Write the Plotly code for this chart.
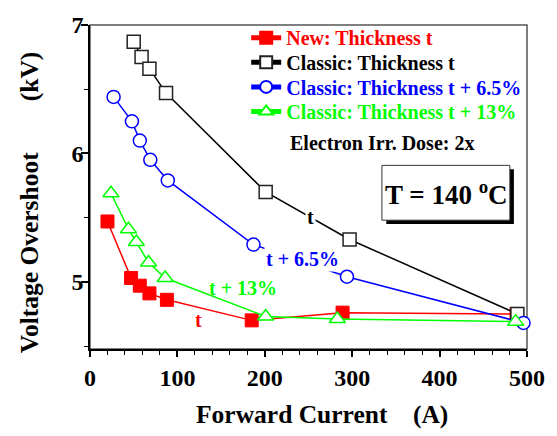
import plotly.graph_objects as go

# ---- data ----
new_x = [20, 47, 57, 68, 88, 185, 289, 488]
new_y = [5.47, 5.03, 4.97, 4.91, 4.86, 4.70, 4.76, 4.75]

cls_x = [50, 59, 68, 87, 201, 297, 489]
cls_y = [6.87, 6.75, 6.66, 6.47, 5.70, 5.33, 4.75]

c65_x = [27, 48, 57, 69, 89, 187, 294, 496]
c65_y = [6.44, 6.25, 6.10, 5.95, 5.79, 5.29, 5.04, 4.68]

c13_x = [24, 44, 53, 67, 86, 201, 283, 487]
c13_y = [5.69, 5.41, 5.31, 5.15, 5.03, 4.73, 4.71, 4.69]

x_ticks = [0, 100, 200, 300, 400, 500]
y_ticks = [5, 6, 7]

RED = "#FF0000"
BLUE = "#0000FF"
GREEN = "#00FF00"
FONT = "Liberation Serif"
NB = "\u00a0"

fig = go.Figure()

fig.add_trace(go.Scatter(
    x=new_x, y=new_y, mode="lines+markers", legend="legend",
    name=f'<span style="color:{RED}">New: Thickness t</span>',
    line=dict(color=RED, width=1.5),
    marker=dict(symbol="square", size=13, color=RED, line=dict(color=RED, width=1)),
    cliponaxis=False,
))
fig.add_trace(go.Scatter(
    x=cls_x, y=cls_y, mode="lines+markers", legend="legend2",
    name='<span style="color:black">Classic: Thickness t</span>',
    line=dict(color="black", width=1.5),
    marker=dict(symbol="square", size=13, color="white", line=dict(color="#222", width=1.5)),
    cliponaxis=False,
))
fig.add_trace(go.Scatter(
    x=c65_x, y=c65_y, mode="lines+markers", legend="legend3",
    name=f'<span style="color:{BLUE}">Classic: Thickness t + 6.5%</span>',
    line=dict(color=BLUE, width=1.5),
    marker=dict(symbol="circle", size=13, color="white", line=dict(color=BLUE, width=1.5)),
    cliponaxis=False,
))
fig.add_trace(go.Scatter(
    x=c13_x, y=c13_y, mode="lines+markers", legend="legend4",
    name=f'<span style="color:{GREEN}">Classic: Thickness t + 13%</span>',
    line=dict(color=GREEN, width=1.5),
    marker=dict(symbol="triangle-up", size=14, color="white", line=dict(color=GREEN, width=1.5)),
    cliponaxis=False,
))

annotations = [
    # axis titles
    dict(x=0.2373, y=-0.2009, xref="paper", yref="paper", xanchor="left", yanchor="middle",
         text="Forward Current" + NB * 4 + "(A)", showarrow=False,
         font=dict(family=FONT, size=25.5, color="black", weight="bold")),
    dict(x=-0.1367, y=-0.0183, xref="paper", yref="paper", xanchor="center", yanchor="bottom",
         text="Voltage Overshoot" + NB * 8 + "(kV)", showarrow=False, textangle=-90,
         font=dict(family=FONT, size=25.5, color="black", weight="bold")),
    dict(x=227, y=6.08, xref="x", yref="y", xanchor="left", yanchor="middle",
         text="Electron Irr. Dose: 2x", showarrow=False,
         font=dict(family=FONT, size=20, color="black", weight="bold")),
    dict(x=407.5, y=5.69, xref="x", yref="y", text="T = 140 <sup>o</sup>C", showarrow=False,
         font=dict(family=FONT, size=27, color="black", weight="bold")),
    dict(x=252.8, y=5.506, xref="x", yref="y", text="t", showarrow=False, bgcolor="white",
         font=dict(family=FONT, size=20, color="black", weight="bold")),
    dict(x=243.5, y=5.174, xref="x", yref="y", text="t + 6.5%", showarrow=False, bgcolor="white",
         font=dict(family=FONT, size=20, color=BLUE, weight="bold")),
    dict(x=175.4, y=4.952, xref="x", yref="y", text="t + 13%", showarrow=False,
         font=dict(family=FONT, size=20, color=GREEN, weight="bold")),
    dict(x=124.4, y=4.70, xref="x", yref="y", text="t", showarrow=False,
         font=dict(family=FONT, size=20, color=RED, weight="bold")),
]

shapes = [
    dict(type="rect", xref="paper", yref="paper", x0=0, x1=1, y0=0, y1=1,
         line=dict(color="#555", width=1.5), layer="below"),
    dict(type="rect", xref="x", yref="y", x0=339, x1=485, y0=5.45, y1=5.877,
         fillcolor="black", line=dict(width=0)),
    dict(type="rect", xref="x", yref="y", x0=334, x1=480.4, y0=5.48, y1=5.907,
         fillcolor="white", line=dict(color="#333", width=1)),
]

legend_rows = [0.961, 0.885, 0.809, 0.733]
def leg(yv):
    return dict(x=0.3574, y=yv, xanchor="left", yanchor="middle",
                bgcolor="rgba(0,0,0,0)", borderwidth=0,
                font=dict(family=FONT, size=20, weight="bold"),
                itemsizing="constant")

fig.update_layout(
    width=557, height=436,
    margin=dict(l=90, r=25.5, t=20.5, b=87),
    paper_bgcolor="white", plot_bgcolor="white",
    font=dict(family=FONT, size=18, color="black", weight="bold"),
    showlegend=True,
    legend=leg(legend_rows[0]),
    legend2=leg(legend_rows[1]),
    legend3=leg(legend_rows[2]),
    legend4=leg(legend_rows[3]),
    annotations=annotations,
    shapes=shapes,
)

fig.update_xaxes(
    range=[0, 500], tickvals=x_ticks, ticktext=[str(v) for v in x_ticks],
    ticks="outside", ticklen=6, tickwidth=1.5, tickcolor="black",
    linecolor="black", linewidth=1.5, showgrid=False, zeroline=False,
    tickfont=dict(family=FONT, size=24, color="black", weight="bold"),
    minor=dict(dtick=20, tick0=0, ticks="outside", ticklen=4, tickwidth=1.2, tickcolor="black"),
)
fig.update_yaxes(
    range=[4.477, 7.0], tickvals=y_ticks, ticktext=[str(v) for v in y_ticks],
    ticks="outside", ticklen=7, tickwidth=1.5, tickcolor="black",
    linecolor="black", linewidth=1.5, showgrid=False, zeroline=False,
    tickfont=dict(family=FONT, size=24, color="black", weight="bold"),
    ticklabelstandoff=-7,
    minor=dict(dtick=0.5, tick0=0, ticks="outside", ticklen=4, tickwidth=1.2, tickcolor="black"),
)

fig.write_html("out.html")
